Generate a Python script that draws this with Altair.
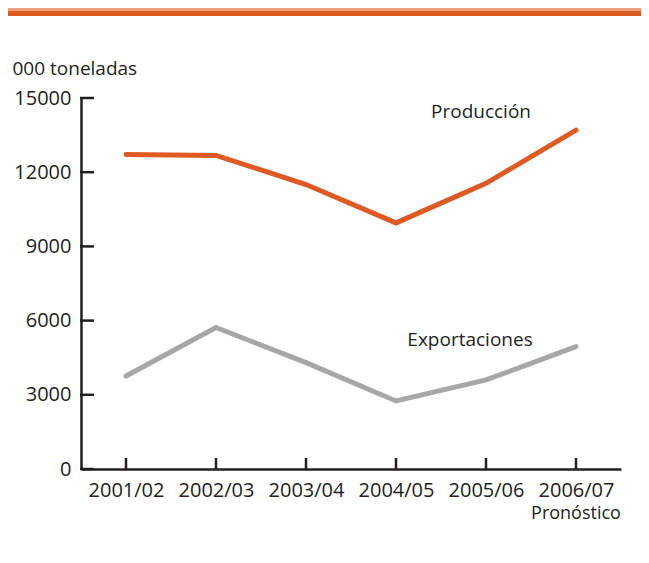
import altair as alt
import pandas as pd

years = ["2001/02", "2002/03", "2003/04", "2004/05", "2005/06", "2006/07"]
produccion = [12720, 12680, 11500, 9950, 11550, 13700]
exportaciones = [3760, 5720, 4300, 2750, 3600, 4950]
series_names = ["Producción", "Exportaciones"]
series_colors = ["#DE5A22", "#A7A7A9"]
y_ticks = [0, 3000, 6000, 9000, 12000, 15000]

label_text = ["Producción", "Exportaciones"]
label_year = ["2004/05", "2004/05"]
label_dx = [85, 74]
label_value = [14430, 5220]

FONT = "Open Sans"
W, H = 540, 371

rows = []
for y, p, e in zip(years, produccion, exportaciones):
    rows.append({"year": y, "serie": "Producción", "value": p})
    rows.append({"year": y, "serie": "Exportaciones", "value": e})
df = pd.DataFrame(rows)

xscale = alt.Scale(type="point", domain=years, padding=0.5)
yscale = alt.Scale(domain=[0, 15000], nice=False)

lines = alt.Chart(df).mark_line(strokeWidth=5, strokeCap="round", strokeJoin="miter").encode(
    x=alt.X("year:O", scale=xscale, sort=years,
            axis=alt.Axis(title=None, labelAngle=0, tickSize=0, labelPadding=11,
                          labelFont=FONT, labelFontSize=20, labelColor="#231F20",
                          domainColor="#231F20", domainWidth=2.5, grid=False)),
    y=alt.Y("value:Q", scale=yscale,
            axis=alt.Axis(values=y_ticks, format="d", tickSize=0, labelPadding=10, grid=False,
                          labelFont=FONT, labelFontSize=20, labelColor="#231F20",
                          domainColor="#231F20", domainWidth=2.5,
                          title="000 toneladas", titleAngle=0, titleAlign="left",
                          titleBaseline="alphabetic", titleX=-69, titleY=-24,
                          titleFont=FONT, titleFontSize=19, titleFontWeight="normal",
                          titleColor="#231F20")),
    color=alt.Color("serie:N", scale=alt.Scale(domain=series_names, range=series_colors), legend=None),
    detail="serie:N",
)

ytick_df = pd.DataFrame({"v": y_ticks})
yticks = alt.Chart(ytick_df).mark_rule(color="#231F20", strokeWidth=2.5).encode(
    y=alt.Y("v:Q", scale=yscale),
    x=alt.value(-1),
    x2=alt.value(13),
)

xtick_df = pd.DataFrame({"year": years})
xticks = alt.Chart(xtick_df).mark_rule(color="#231F20", strokeWidth=2.5).encode(
    x=alt.X("year:O", scale=xscale, sort=years),
    y=alt.value(H),
    y2=alt.value(H - 11),
)

lab_df = pd.DataFrame({"t": label_text, "year": label_year, "dx": label_dx, "v": label_value})
labels = alt.Chart(lab_df).mark_text(font=FONT, fontSize=19, color="#231F20", align="center", baseline="middle").encode(
    x=alt.X("year:O", scale=xscale, sort=years),
    y=alt.Y("v:Q", scale=yscale),
    text="t:N",
    xOffset=alt.XOffset("dx:Q", scale=None),
)

pron = alt.Chart(pd.DataFrame({"year": [years[-1]], "t": ["Pronóstico"]})).mark_text(
    font=FONT, fontSize=18, color="#231F20", align="center", baseline="middle"
).encode(
    x=alt.X("year:O", scale=xscale, sort=years),
    y=alt.value(H + 45),
    text="t:N",
)

bar_df = pd.DataFrame({"a": [0]})
bar_light = alt.Chart(bar_df).mark_rect(color="#EEA07A").encode(
    x=alt.value(-73), x2=alt.value(W + 20), y=alt.value(-90), y2=alt.value(-87)
)
bar_dark = alt.Chart(bar_df).mark_rect(color="#DE5A22").encode(
    x=alt.value(-73), x2=alt.value(W + 20), y=alt.value(-87), y2=alt.value(-82)
)

chart = alt.layer(bar_light, bar_dark, lines, yticks, xticks, labels, pron).properties(
    width=W, height=H,
    autosize=alt.AutoSizeParams(type="none"),
    padding={"left": 73, "top": 90, "right": 20, "bottom": 70},
    background="white",
).configure_view(stroke=None)

chart.save("out.html", embed_options={"renderer": "svg", "actions": False})
